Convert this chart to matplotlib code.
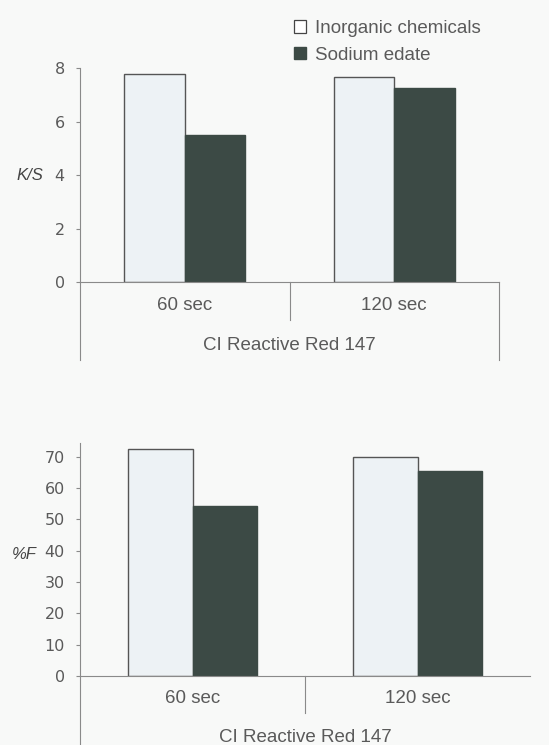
import matplotlib
matplotlib.use("Agg")
import matplotlib.pyplot as plt
from matplotlib.patches import Patch
import numpy as np

plt.rcParams['font.family'] = ['Liberation Sans', 'DejaVu Sans']

# data
groups = ["60 sec", "120 sec"]
dye = "CI Reactive Red 147"
series = ["Inorganic chemicals", "Sodium edate"]
ks_inorganic = [7.78, 7.65]
ks_edate = [5.5, 7.24]
f_inorganic = [72.4, 69.8]
f_edate = [54.3, 65.5]

light = "#edf2f5"
dark = "#3c4a45"
edge = "#555555"
grey = "#8a8a8a"
txt = "#5a5a5a"

W, H = 549, 745
fig = plt.figure(figsize=(W / 100, H / 100), dpi=100, facecolor="#f8f9f8")


def box(x0, x1, ytop, ybot):
    return [x0 / W, 1 - ybot / H, (x1 - x0) / W, (ybot - ytop) / H]


def draw(ax, a, b, ymax, ticks, ylab, lab_x, lab_y, mid_down, side_down, dye_y, show_right):
    ax.set_facecolor("none")
    x = np.array([0.5, 1.5])
    w = 0.288
    ax.bar(x - w / 2, a, w, color=light, edgecolor=edge, linewidth=1.0)
    ax.bar(x + w / 2, b, w, color=dark, edgecolor=dark, linewidth=1.0)
    ax.set_xlim(0, 2)
    ax.set_ylim(0, ymax)
    ax.set_yticks(ticks)
    ax.set_yticklabels([str(t) for t in ticks], family='DejaVu Sans')
    ax.tick_params(axis='y', direction='out', length=3, width=0.8, color=grey,
                   labelsize=11.5, labelcolor=txt, pad=8)
    ax.set_xticks([])
    for s in ("top", "right"):
        ax.spines[s].set_visible(False)
    for s in ("left", "bottom"):
        ax.spines[s].set_color(grey)
        ax.spines[s].set_linewidth(0.8)
    tr = ax.get_xaxis_transform()
    ax.plot([0, 0], [0, side_down], color=grey, lw=0.8, transform=tr, clip_on=False)
    ax.plot([1, 1], [0, mid_down], color=grey, lw=0.8, transform=tr, clip_on=False)
    if show_right:
        ax.plot([2, 2], [0, side_down], color=grey, lw=0.8, transform=tr, clip_on=False)
    for xi, g in zip(x, groups):
        ax.text(xi, mid_down * 0.62, g, transform=tr, ha='center', va='center',
                fontsize=13.5, color=txt)
    ax.text(1.0, dye_y, dye, transform=tr, ha='center', va='center',
            fontsize=13.5, color=txt)
    ax.text(lab_x, lab_y, ylab, transform=ax.transAxes, ha='center', va='center',
            fontsize=12, color="#444444", style='italic')


ax1 = fig.add_axes(box(80, 499, 68, 282))
draw(ax1, ks_inorganic, ks_edate, 8, [0, 2, 4, 6, 8], "K/S",
     -0.12, 0.5, -0.178, -0.364, -0.295, True)

ax2 = fig.add_axes(box(80, 530, 443, 676))
draw(ax2, f_inorganic, f_edate, 74.4, [0, 10, 20, 30, 40, 50, 60, 70], "%F",
     -0.125, 0.52, -0.159, -0.31, -0.262, False)

handles = [Patch(facecolor="white", edgecolor="#444444", linewidth=0.9),
           Patch(facecolor=dark, edgecolor=dark)]
fig.legend(handles, series, loc='upper left', bbox_to_anchor=(281 / W, 1 - 7 / H),
           frameon=False, fontsize=13.5, handlelength=0.65, handleheight=0.65,
           handletextpad=0.45, labelspacing=0.5, labelcolor=txt,
           borderpad=0.2)

fig.savefig("out.png", dpi=100, facecolor=fig.get_facecolor())
